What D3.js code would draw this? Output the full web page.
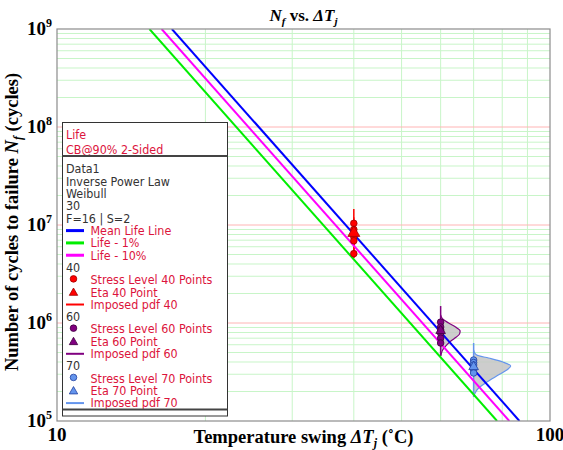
<!DOCTYPE html>
<html><head><meta charset="utf-8">
<script src="https://cdn.jsdelivr.net/npm/d3@7"></script>
<style>
body{margin:0;background:#fff;}
svg{display:block;}
.leg{font-family:"DejaVu Sans Condensed","DejaVu Sans",sans-serif;font-stretch:condensed;font-size:12.4px;}
.serif{font-family:"Liberation Serif","Times New Roman",serif;font-weight:bold;}
</style></head>
<body><svg id="c" width="563" height="450"></svg>
<script>
// ---- data ----
const xDomain = [10, 100];
const yDomain = [1e5, 1e9];
const xTickLabels = [10, 100];
const yTickExps = [5, 6, 7, 8, 9];
const stressLevels = [40, 60, 70];
const points40 = [10400000, 9000000, 7600000, 6900000, 5100000];
const points60 = [1020000, 910000, 850000, 790000, 700000, 625000];
const points70 = [419000, 395000, 373000, 332000, 309000];
const etaValues = [8500000, 850000, 364000];
const meanLifeLine = [[17.1, 1e9], [86.7, 1e5]];
const life1Line = [[15.4, 1e9], [78.1, 1e5]];
const life10Line = [[16.3, 1e9], [82.7, 1e5]];
const pdfRange40 = [14600000, 4600000];
const pdfRange60 = [1490000, 460000];
const pdfRange70 = [625000, 176000];
const pdf40 = [[12000000,0],[10500000,0.08],[9500000,0.22],[8600000,0.33],[7800000,0.3],[7000000,0.2],[6200000,0.1],[5400000,0.04],[4800000,0.01],[4600000,0]];
const pdf60 = [[1210000,0],[1100000,0.31],[1000000,1.23],[910000,2.3],[830000,3.0],[770000,2.9],[700000,2.15],[640000,1.4],[580000,0.77],[530000,0.31],[480000,0.08],[460000,0]];
const pdf70 = [[530000,0],[506000,0.08],[471000,0.46],[439000,2.3],[400000,4.5],[364000,5.7],[332000,5.1],[295000,3.8],[256000,2.3],[217000,0.77],[189000,0.15],[176000,0]];
const legendRows = [
  {t:"Life", c:"red"}, {t:"CB@90% 2-Sided", c:"red", sep:true},
  {t:"Data1"}, {t:"Inverse Power Law"}, {t:"Weibull"}, {t:"30"}, {t:"F=16 | S=2"},
  {t:"Mean Life Line", c:"red", sym:"line", col:"#0000ff"},
  {t:"Life - 1%", c:"red", sym:"line", col:"#00ee00"},
  {t:"Life - 10%", c:"red", sym:"line", col:"#ff00ff"},
  {t:"40"},
  {t:"Stress Level 40 Points", c:"red", sym:"circle", lvl:0},
  {t:"Eta 40 Point", c:"red", sym:"tri", lvl:0},
  {t:"Imposed pdf 40", c:"red", sym:"pdf", lvl:0},
  {t:"60"},
  {t:"Stress Level 60 Points", c:"red", sym:"circle", lvl:1},
  {t:"Eta 60 Point", c:"red", sym:"tri", lvl:1},
  {t:"Imposed pdf 60", c:"red", sym:"pdf", lvl:1},
  {t:"70"},
  {t:"Stress Level 70 Points", c:"red", sym:"circle", lvl:2},
  {t:"Eta 70 Point", c:"red", sym:"tri", lvl:2},
  {t:"Imposed pdf 70", c:"red", sym:"pdf", lvl:2}
];

// ---- styles ----
const levelFill = ["#ff0000", "#800080", "#6495ed"];
const levelStroke = ["#a00000", "#400040", "#1f3f9f"];
const levelLine = ["#ff0000", "#800080", "#6495ed"];
const textRed = "#dc143c";

const svg = d3.select("#c");
const L = 57, R = 550, T = 29, B = 421;
const x = d3.scaleLog().domain(xDomain).range([L, R]);
const y = d3.scaleLog().domain(yDomain).range([B, T]);

svg.append("defs").append("clipPath").attr("id","clip")
  .append("rect").attr("x",L).attr("y",T).attr("width",R-L).attr("height",B-T);

// grid
const g = svg.append("g");
const xMinor = [];
for (let v = 20; v <= 90; v += 10) xMinor.push(v);
const yMinor = [], yMajor = [];
yTickExps.forEach(e => {
  if (e > 5 && e < 9) yMajor.push(Math.pow(10, e));
  if (e < 9) for (let k = 2; k <= 9; k++) yMinor.push(k * Math.pow(10, e));
});
g.selectAll(".hm").data(yMinor).join("line")
  .attr("x1",L).attr("x2",R).attr("y1",d=>y(d)).attr("y2",d=>y(d))
  .attr("stroke","#c8f5c8").attr("stroke-width",1);
g.selectAll(".vm").data(xMinor).join("line")
  .attr("y1",T).attr("y2",B).attr("x1",d=>x(d)).attr("x2",d=>x(d))
  .attr("stroke","#c8f5c8").attr("stroke-width",1);
g.selectAll(".hM").data(yMajor).join("line")
  .attr("x1",L).attr("x2",R).attr("y1",d=>y(d)).attr("y2",d=>y(d))
  .attr("stroke","#ffb4b4").attr("stroke-width",1);

// pdfs
const wScale = d3.scaleLinear().domain([0, 6]).range([0, 39]);
const pdfs = [pdf40, pdf60, pdf70];
const ranges = [pdfRange40, pdfRange60, pdfRange70];
const pg = svg.append("g").attr("clip-path","url(#clip)");
pdfs.forEach((p, i) => {
  const xb = x(stressLevels[i]);
  const area = d3.area().curve(d3.curveMonotoneY)
    .y(d => y(d[0])).x0(xb).x1(d => xb + wScale(d[1]));
  pg.append("path").attr("d", area(p)).attr("fill","#c4c4c4").attr("fill-opacity",0.85);
  const ln = d3.line().curve(d3.curveMonotoneY).y(d => y(d[0])).x(d => xb + wScale(d[1]));
  pg.append("path").attr("d", ln(p)).attr("fill","none").attr("stroke",levelLine[i]).attr("stroke-width",1.2);
  pg.append("line").attr("x1",xb).attr("x2",xb).attr("y1",y(ranges[i][0])).attr("y2",y(ranges[i][1]))
    .attr("stroke",levelLine[i]).attr("stroke-width",1.5);
});

// model lines
const lg = svg.append("g").attr("clip-path","url(#clip)");
const lineGen = d3.line().x(d => x(d[0])).y(d => y(d[1]));
[[life1Line,"#00ee00"],[life10Line,"#ff00ff"],[meanLifeLine,"#0000ff"]].forEach(([d,c]) => {
  lg.append("path").attr("d", lineGen(d)).attr("fill","none").attr("stroke",c).attr("stroke-width",2);
});

// points
const allPts = [points40, points60, points70];
const mg = svg.append("g");
const triPath = (cx, cy, s) => `M${cx},${cy - s*0.6}L${cx + s*0.6},${cy + s*0.45}L${cx - s*0.6},${cy + s*0.45}Z`;
allPts.forEach((pts, i) => {
  mg.selectAll(null).data(pts).join("circle")
    .attr("cx", x(stressLevels[i])).attr("cy", d => y(d)).attr("r", 3.3)
    .attr("fill", levelFill[i]).attr("stroke", levelStroke[i]).attr("stroke-width", 0.8);
  const s = i === 0 ? 10 : 8;
  mg.append("path").attr("d", triPath(x(stressLevels[i]), y(etaValues[i]), s))
    .attr("fill", levelFill[i]).attr("stroke", levelStroke[i]).attr("stroke-width", 0.8);
});

// frame
svg.append("rect").attr("x",L).attr("y",T).attr("width",R-L).attr("height",B-T)
  .attr("fill","none").attr("stroke","#8c8c8c").attr("stroke-width",1.2);

// tick labels
const xt = svg.append("g").attr("class","serif");
xTickLabels.forEach(v => {
  xt.append("text").attr("x", x(v)).attr("y", 441).attr("text-anchor","middle")
    .attr("font-size",19).text(v);
});
yTickExps.forEach(e => {
  const t = xt.append("text").attr("x", L - 5).attr("y", y(Math.pow(10, e)) + 6)
    .attr("text-anchor","end").attr("font-size",19);
  t.append("tspan").text("10");
  t.append("tspan").attr("dy",-8).attr("font-size",12).text(e);
});

// title
const title = svg.append("text").attr("class","serif").attr("x",(L+R)/2).attr("y",21)
  .attr("text-anchor","middle").attr("font-size",17);
title.append("tspan").attr("font-style","italic").text("N");
title.append("tspan").attr("font-style","italic").attr("font-size",11).attr("dy",4).text("f");
title.append("tspan").attr("dy",-4).text(" vs. ");
title.append("tspan").attr("font-style","italic").text("ΔT");
title.append("tspan").attr("font-style","italic").attr("font-size",11).attr("dy",4).text("j");

// x label
const xl = svg.append("text").attr("class","serif").attr("x",(L+R)/2).attr("y",443)
  .attr("text-anchor","middle").attr("font-size",18.5);
xl.append("tspan").text("Temperature swing ");
xl.append("tspan").attr("font-style","italic").text("ΔT");
xl.append("tspan").attr("font-style","italic").attr("font-size",12).attr("dy",4).text("j");
xl.append("tspan").attr("dy",-4).text(" (˚C)");

// y label
const yl = svg.append("text").attr("class","serif").attr("transform","translate(18,222) rotate(-90)")
  .attr("text-anchor","middle").attr("font-size",18.5);
yl.append("tspan").text("Number of cycles to failure ");
yl.append("tspan").attr("font-style","italic").text("N");
yl.append("tspan").attr("font-style","italic").attr("font-size",12).attr("dy",4).text("f");
yl.append("tspan").attr("dy",-4).text(" (cycles)");

// legend
const lgX = 62.5, lgY = 122.5, lgW = 165, lgH = 293.5;
const leg = svg.append("g").attr("class","leg");
leg.append("rect").attr("x",lgX).attr("y",lgY).attr("width",lgW).attr("height",lgH)
  .attr("fill","#fff").attr("stroke","#333").attr("stroke-width",1);
const rowY = i => (i < 2 ? 135 + i*14.3 : 169 + (i-2)*12.32);
legendRows.forEach((r, i) => {
  const cy = rowY(i);
  const tx = r.sym ? 90.5 : 66;
  leg.append("text").attr("x",tx).attr("y",cy+4.3).attr("fill", r.c === "red" ? textRed : "#333").text(r.t);
  if (r.sym === "line") {
    leg.append("line").attr("x1",66).attr("x2",84).attr("y1",cy).attr("y2",cy).attr("stroke",r.col).attr("stroke-width",3);
  } else if (r.sym === "pdf") {
    leg.append("line").attr("x1",66).attr("x2",84).attr("y1",cy).attr("y2",cy).attr("stroke",levelLine[r.lvl]).attr("stroke-width",2);
  } else if (r.sym === "circle") {
    leg.append("circle").attr("cx",73.5).attr("cy",cy-1).attr("r",3.3)
      .attr("fill",levelFill[r.lvl]).attr("stroke",levelStroke[r.lvl]).attr("stroke-width",0.8);
  } else if (r.sym === "tri") {
    leg.append("path").attr("d",triPath(73.5, cy, 7))
      .attr("fill",levelFill[r.lvl]).attr("stroke",levelStroke[r.lvl]).attr("stroke-width",0.8);
  }
});
leg.append("line").attr("x1",lgX).attr("x2",lgX+lgW).attr("y1",156).attr("y2",156).attr("stroke","#444").attr("stroke-width",2);
leg.append("line").attr("x1",lgX).attr("x2",lgX+lgW).attr("y1",409.5).attr("y2",409.5).attr("stroke","#444").attr("stroke-width",2);
</script></body></html>
